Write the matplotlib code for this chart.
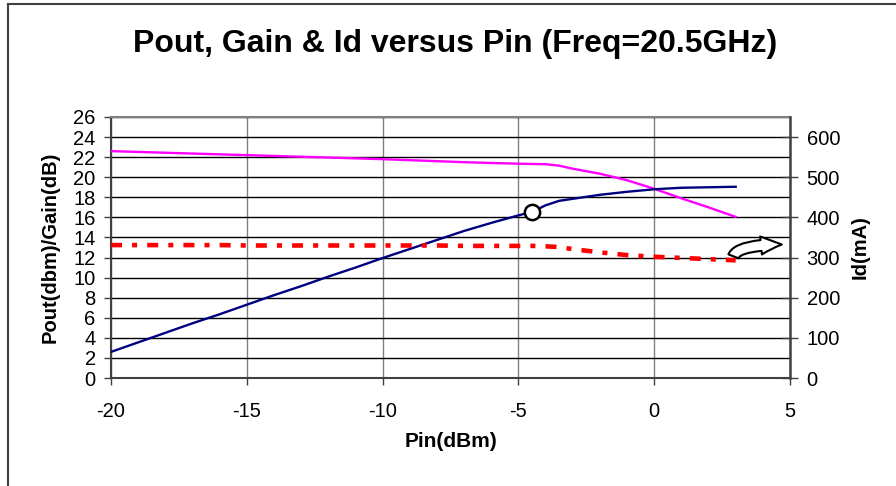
import numpy as np
import matplotlib
matplotlib.use("Agg")
from matplotlib import pyplot as plt
from matplotlib.lines import Line2D

plt.rcParams['font.family'] = ['Liberation Sans', 'DejaVu Sans']
plt.rcParams['axes.unicode_minus'] = False

# input power sweep (dBm)
pin = [-20, -19, -18, -17, -16, -15, -14, -13, -12, -11, -10, -9, -8, -7, -6, -5,
       -4.5, -4, -3.5, -3, -2, -1, 0, 1, 2, 3]
# output power (dBm)
pout = [2.6, 3.55, 4.5, 5.45, 6.35, 7.3, 8.25, 9.15, 10.1, 11.0, 11.95, 12.85, 13.75,
        14.65, 15.45, 16.2, 16.55, 17.2, 17.65, 17.85, 18.25, 18.55, 18.8, 18.95, 19.0, 19.05]
# gain (dB)
gain = [22.6, 22.52, 22.44, 22.36, 22.28, 22.2, 22.12, 22.04, 21.96, 21.88, 21.8, 21.7,
        21.6, 21.5, 21.42, 21.35, 21.32, 21.3, 21.15, 20.85, 20.35, 19.7, 18.85, 17.9, 17.0, 16.05]
# drain current (mA)
idd = [331, 331, 331, 331, 331, 330, 330, 330, 330, 330, 330, 330, 330, 329, 329, 329,
       329, 328, 326, 321, 313, 306, 302, 299, 296, 293]

# 1 dB compression marker
p1db_x = [-4.5]
p1db_y = [16.55]

xticks = [-20, -15, -10, -5, 0, 5]
yticks = list(range(0, 27, 2))
y2ticks = list(range(0, 601, 100))

fig = plt.figure(figsize=(8.96, 4.86), dpi=100)
ax = fig.add_axes([111/896, 1-378/486, 679/896, 261/486])
ax2 = ax.twinx()

ax.set_xlim(-20, 5)
ax.set_ylim(0, 26)
ax2.set_ylim(0, 650)

ax.set_xticks(xticks)
ax.set_yticks(yticks)
ax2.set_yticks(y2ticks)

ax.grid(axis='y', color='black', lw=1.0)
ax.grid(axis='x', color='#808080', lw=1.0)
ax.set_axisbelow(True)

ax.plot(pin, gain, color='#FF00FF', lw=1.7, zorder=3)
ax.plot(pin, pout, color='#000080', lw=1.7, zorder=3)
ax2.plot(pin, idd, color='#FF0000', lw=3.3, dashes=(2.4, 2.2, 1.1, 2.2), zorder=3)
ax.plot(p1db_x, p1db_y, 'o', ms=11, mfc='white', mec='black', mew=1.8, zorder=5)

# curved arrow pointing to the right axis
ax.annotate('', xy=(4.8, 13.3), xytext=(2.9, 11.85),
            arrowprops=dict(arrowstyle='simple,head_length=1.15,head_width=1.0,tail_width=0.6',
                            connectionstyle='angle3,angleA=90,angleB=0',
                            fc='white', ec='black', lw=1.5, mutation_scale=13),
            zorder=6)

for sp in ['left', 'bottom']:
    ax.spines[sp].set_color('#404040')
    ax.spines[sp].set_linewidth(1.5)
ax.spines['top'].set_color('#808080')
ax.spines['top'].set_linewidth(1.5)
ax2.spines['right'].set_color('#404040')
ax2.spines['right'].set_linewidth(1.8)
for sp in ['left', 'bottom', 'top']:
    ax2.spines[sp].set_visible(False)
ax.spines['right'].set_visible(False)

ax.tick_params(axis='y', direction='out', length=5, width=1, color='#404040',
               labelsize=14.5, pad=6)
ax.tick_params(axis='x', direction='out', length=5, width=1, color='#404040',
               labelsize=14.5, pad=12)
ax2.tick_params(axis='y', direction='inout', length=12, width=1, color='#404040',
                labelsize=14.5, pad=6)

ax.set_xlabel('Pin(dBm)', fontsize=15, fontweight='bold')
ax.set_ylabel('Pout(dbm)/Gain(dB)', fontsize=14.5, fontweight='bold')
ax2.set_ylabel('Id(mA)', fontsize=14.5, fontweight='bold')
ax.xaxis.set_label_coords(0.5, (378-432)/261)
ax.yaxis.set_label_coords((60-111)/679, 0.5)
ax2.yaxis.set_label_coords((851-111)/679, 0.5)

fig.text(455/896, 1-44/486, 'Pout, Gain & Id versus Pin (Freq=20.5GHz)',
         ha='center', va='center', fontsize=23, fontweight='bold')

# chart border (only top and left edges fall inside the picture)
fig.add_artist(Line2D([8/896, 8/896], [0, 1-4/486], color='#404040', lw=1.5))
fig.add_artist(Line2D([8/896, 1], [1-4/486, 1-4/486], color='#404040', lw=1.5))

fig.savefig('out.png', dpi=100)
